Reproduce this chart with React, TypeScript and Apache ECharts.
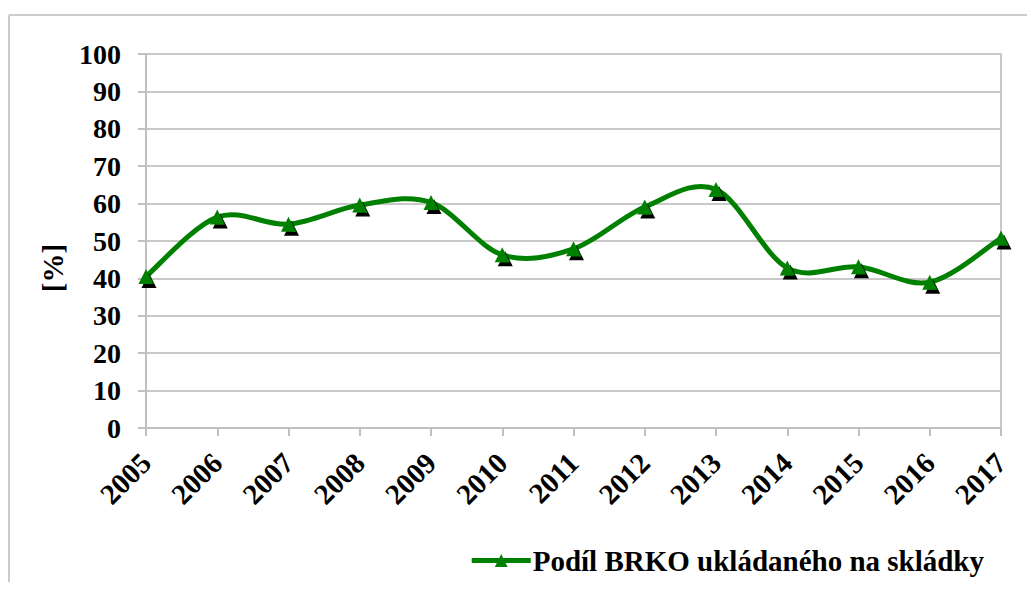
import React, { useEffect, useRef } from "react";
import * as echarts from "echarts";

const years = ["2005", "2006", "2007", "2008", "2009", "2010", "2011", "2012", "2013", "2014", "2015", "2016", "2017"];
const share = [40.5, 56.4, 54.5, 59.6, 60.3, 46.3, 47.9, 59.1, 63.8, 42.8, 43.1, 39.0, 50.8];
const seriesName = "Podíl BRKO ukládaného na skládky";
const yAxisTitle = "[%]";

const FONT = "'Liberation Serif', 'Times New Roman', serif";
const GREEN = "#008000";

export default function App() {
  const ref = useRef<HTMLDivElement>(null);
  useEffect(() => {
    const chart = echarts.init(ref.current!, null, { renderer: "svg" });
    chart.setOption({
      animation: false,
      backgroundColor: "#fff",
      graphic: [
        {
          type: "line",
          shape: { x1: 9, y1: 15, x2: 1040, y2: 15 },
          style: { stroke: "#cccccc", lineWidth: 2 },
          silent: true,
        },
        {
          type: "line",
          shape: { x1: 9, y1: 15, x2: 9, y2: 600 },
          style: { stroke: "#cccccc", lineWidth: 2 },
          silent: true,
        },
        {
          type: "text",
          x: 53,
          y: 268,
          rotation: Math.PI / 2,
          style: {
            text: yAxisTitle,
            fontFamily: FONT,
            fontWeight: "bold",
            fontSize: 29,
            fill: "#000",
            align: "center",
            verticalAlign: "middle",
          },
          silent: true,
        },
      ],
      grid: { left: 146, right: 34, top: 54, bottom: 162, containLabel: false },
      legend: {
        data: [
          {
            name: seriesName,
            lineStyle: { width: 5, color: GREEN, opacity: 1 },
            itemStyle: { color: GREEN, shadowColor: "transparent" },
          },
        ],
        right: 46,
        top: 541,
        itemWidth: 59,
        itemHeight: 16,
        itemGap: 4,
        textStyle: { fontFamily: FONT, fontWeight: "bold", fontSize: 29, color: "#000", padding: [0, 0, 0, -3] },
      },
      xAxis: {
        type: "category",
        data: years,
        boundaryGap: false,
        axisLine: { lineStyle: { color: "#c0c0c0", width: 2 } },
        axisTick: { show: true, length: 8, lineStyle: { color: "#c0c0c0", width: 2 } },
        axisLabel: {
          rotate: 45,
          fontFamily: FONT,
          fontWeight: "bold",
          fontSize: 29,
          color: "#000",
          margin: 30,
          interval: 0,
        },
      },
      yAxis: [
        {
          type: "value",
          min: 0,
          max: 100,
          interval: 10,
          axisLine: { show: true, lineStyle: { color: "#c0c0c0", width: 2 } },
          axisTick: { show: true, length: 8, lineStyle: { color: "#c0c0c0", width: 2 } },
          axisLabel: { fontFamily: FONT, fontWeight: "bold", fontSize: 28, color: "#000", margin: 25 },
          splitLine: { lineStyle: { color: "#c8c8c8", width: 2 } },
        },
        {
          type: "value",
          min: 0,
          max: 100,
          interval: 10,
          position: "right",
          axisLine: { show: true, lineStyle: { color: "#c8c8c8", width: 2 } },
          axisTick: { show: false },
          axisLabel: { show: false },
          splitLine: { show: false },
        },
      ],
      series: [
        {
          type: "custom",
          name: "curve",
          coordinateSystem: "cartesian2d",
          data: [[0, share[0]]],
          z: 2,
          silent: true,
          renderItem: (_params: any, api: any) => {
            const pts = share.map((v, i) => api.coord([i, v]));
            let d = `M${pts[0][0]},${pts[0][1]}`;
            for (let i = 0; i < pts.length - 1; i++) {
              const p0 = pts[Math.max(0, i - 1)];
              const p1 = pts[i];
              const p2 = pts[i + 1];
              const p3 = pts[Math.min(pts.length - 1, i + 2)];
              const c1x = p1[0] + (p2[0] - p0[0]) / 6;
              const c1y = p1[1] + (p2[1] - p0[1]) / 6;
              const c2x = p2[0] - (p3[0] - p1[0]) / 6;
              const c2y = p2[1] - (p3[1] - p1[1]) / 6;
              d += ` C${c1x},${c1y} ${c2x},${c2y} ${p2[0]},${p2[1]}`;
            }
            return {
              type: "path",
              shape: { pathData: d },
              style: { fill: "none", stroke: GREEN, lineWidth: 5, lineJoin: "round", lineCap: "round" },
            };
          },
        },
        {
          name: seriesName,
          type: "line",
          data: share,
          z: 3,
          symbol: "triangle",
          symbolSize: 15,
          lineStyle: { color: GREEN, width: 0, opacity: 0 },
          itemStyle: {
            color: GREEN,
            shadowColor: "#000",
            shadowBlur: 0,
            shadowOffsetX: 3,
            shadowOffsetY: 4,
          },
        },
      ],
    });
    return () => chart.dispose();
  }, []);
  return <div ref={ref} style={{ width: 1035, height: 590, margin: -8 }} />;
}
